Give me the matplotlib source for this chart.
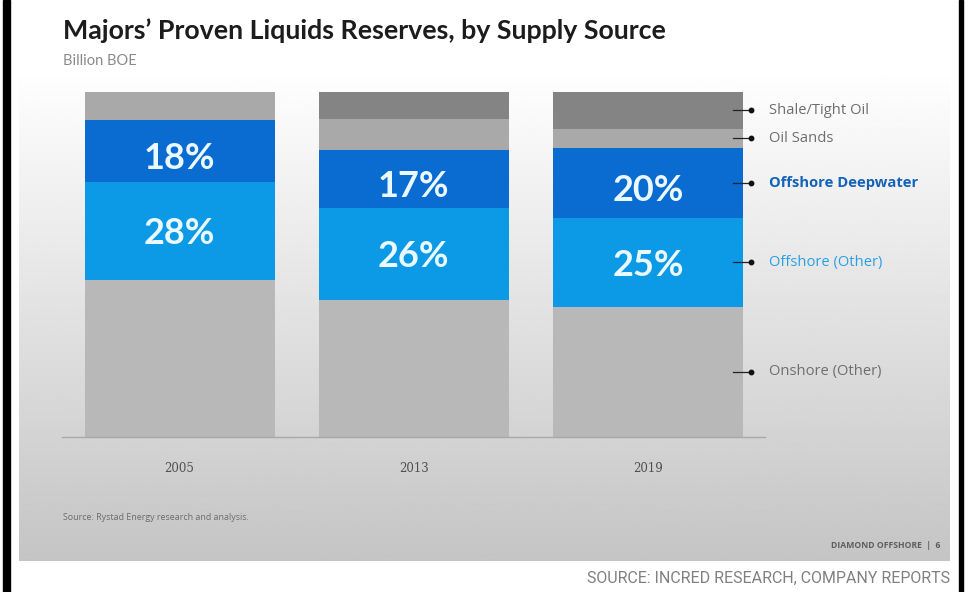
import numpy as np
import matplotlib
matplotlib.use("Agg")
import matplotlib.pyplot as plt
from matplotlib.patches import Rectangle

# values, share of total reserves (%)
years = ["2005", "2013", "2019"]
onshore = [45.5, 39.7, 37.7]
offshore_other = [28.4, 26.7, 25.8]
deepwater = [18.0, 16.8, 20.3]
oil_sands = [8.1, 9.0, 5.5]
shale = [0.0, 7.8, 10.7]

deep_labels = ["18%", "17%", "20%"]
other_labels = ["28%", "26%", "25%"]

series = [
    ("Onshore (Other)", onshore, "#b8b8b8"),
    ("Offshore (Other)", offshore_other, "#0c9ae6"),
    ("Offshore Deepwater", deepwater, "#0a6bd0"),
    ("Oil Sands", oil_sands, "#a9a9a9"),
    ("Shale/Tight Oil", shale, "#848484"),
]
legend_style = {
    "Onshore (Other)": ("#6e6e6e", "normal"),
    "Offshore (Other)": ("#2a9fe4", "normal"),
    "Offshore Deepwater": ("#1563b8", "bold"),
    "Oil Sands": ("#6e6e6e", "normal"),
    "Shale/Tight Oil": ("#6e6e6e", "normal"),
}

W, H = 968, 592
fig = plt.figure(figsize=(W / 100, H / 100), dpi=100)
fig.patch.set_facecolor("white")

# slide background: white to grey vertical gradient
bg = fig.add_axes([0, 0, 1, 1], zorder=-1)
bg.set_xlim(0, W)
bg.set_ylim(H, 0)
bg.axis("off")
grad = np.linspace(0, 1, 300)
shade = 1 - 0.23 * np.clip((grad - 0.12) / 0.88, 0, 1)
img = np.repeat(shade[:, None], 2, axis=1)
bg.imshow(img, cmap="gray", vmin=0, vmax=1, extent=[19, 950, 561, 0], aspect="auto")
bg.add_patch(Rectangle((3, 0), 7, H, color="black"))
bg.add_patch(Rectangle((959, 0), 3.5, H, color="black"))

# titles
fig.text(63 / W, 1 - 31 / H, "Majors\u2019 Proven Liquids Reserves, by Supply Source",
         fontsize=19.3, fontweight="bold", family="Lato", color="#1c1c1c", va="center")
fig.text(63 / W, 1 - 61 / H, "Billion BOE", fontsize=10.5, family="Lato",
         color="#8a8a8a", va="center")

# bars
ax = fig.add_axes([62.4 / W, 1 - 437 / H, 702.75 / W, 345 / H])
ax.set_facecolor("none")
x = np.arange(len(years))
width = 0.811
bottom = np.zeros(len(years))
centers = {}
for name, vals, col in series:
    vals = np.array(vals)
    ax.bar(x, vals, width, bottom=bottom, color=col, linewidth=0)
    centers[name] = bottom + vals / 2
    bottom = bottom + vals

for i in range(len(years)):
    ax.text(x[i], centers["Offshore Deepwater"][i] - 2.2, deep_labels[i], ha="center",
            va="center", fontsize=26, fontweight="bold", family="Lato", color="#eaf8ff")
    ax.text(x[i], centers["Offshore (Other)"][i] - 0.8, other_labels[i], ha="center",
            va="center", fontsize=26, fontweight="bold", family="Lato", color="#eaf8ff")

# legend arrows pointing at the last bar
last = len(years) - 1
for name, vals, col in series:
    yc = centers[name][last]
    tcol, tw = legend_style[name]
    ax.plot([2.363, 2.44], [yc, yc], color="#222222", lw=0.9, clip_on=False)
    ax.plot([2.44], [yc], "o", color="#111111", ms=3.2, clip_on=False)
    ax.text(2.515, yc, name, fontsize=10.6, family="Open Sans", color=tcol,
            fontweight=tw, va="center", ha="left")

ax.set_xlim(-0.5, 2.5)
ax.set_ylim(0, 100)
ax.set_xticks(x)
ax.set_xticklabels(years, family="DejaVu Serif", fontsize=8.5, color="#505050")
ax.tick_params(axis="x", length=0, pad=18)
ax.set_yticks([])
for s in ["top", "left", "right"]:
    ax.spines[s].set_visible(False)
ax.spines["bottom"].set_color("#a8a8a8")
ax.spines["bottom"].set_linewidth(1.0)

# footers
fig.text(63 / W, 1 - 517 / H, "Source: Rystad Energy research and analysis.",
         fontsize=6.4, family="Open Sans", color="#555555", va="center", alpha=0.8)
fig.text(940 / W, 1 - 546 / H, "DIAMOND OFFSHORE  |  6", fontsize=6.2,
         family="Open Sans", fontweight="bold", color="#444444", va="center",
         ha="right", alpha=0.8)
fig.text(950 / W, 1 - 578 / H, "SOURCE: INCRED RESEARCH, COMPANY REPORTS",
         fontsize=11.5, family="Roboto", color="#808080", va="center", ha="right")

fig.savefig("out.png", dpi=100)
